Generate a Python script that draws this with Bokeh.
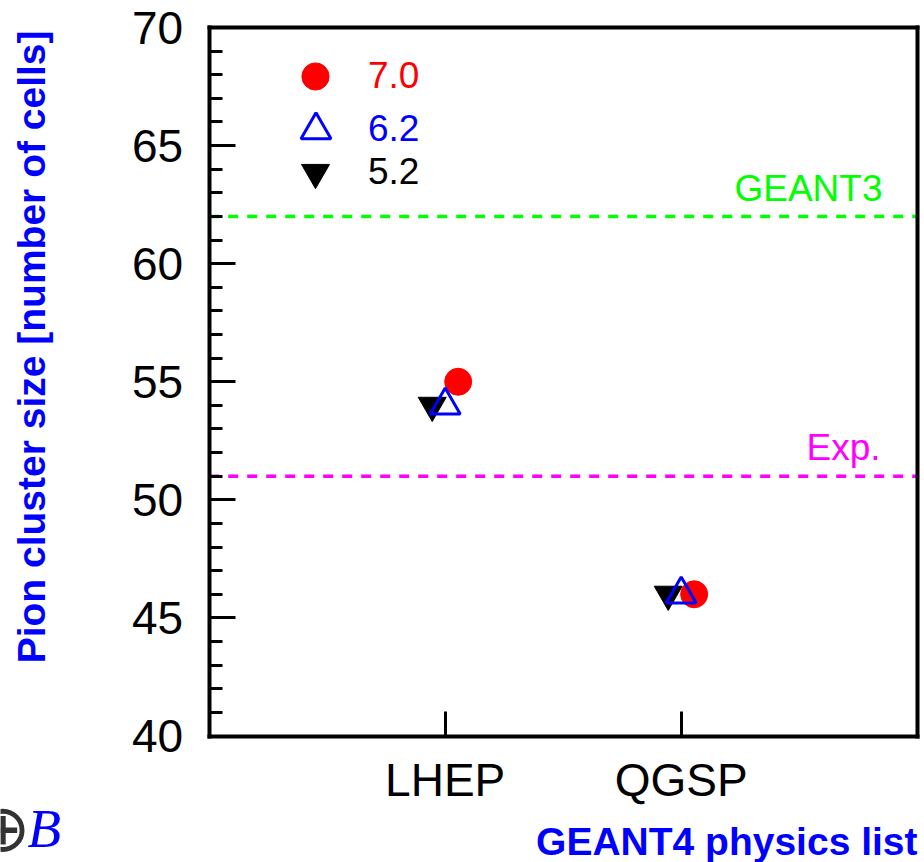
import math

from bokeh.plotting import figure
from bokeh.models import (ColumnDataSource, Range1d, SingleIntervalTicker, FixedTicker,
                          LinearAxis, Label, Legend, LegendItem)
from bokeh.transform import dodge
from bokeh.embed import file_html
from bokeh.resources import INLINE

# GEANT4 physics lists on the x axis
physics_lists = ["LHEP", "QGSP"]
# GEANT4 versions compared
versions = ["7.0", "6.2", "5.2"]
# mean pion cluster size [number of cells] per physics list, for each version
cluster_v70 = [55.0, 46.0]
cluster_v62 = [54.0, 46.0]
cluster_v52 = [54.0, 46.0]
# reference levels
geant3_level = 62.0
exp_level = 51.0

xpos = list(range(1, len(physics_lists) + 1))
source = ColumnDataSource(dict(x=xpos, v70=cluster_v70, v62=cluster_v62, v52=cluster_v52))

FONT = "Liberation Sans"
W, H = 924, 862

# the axes box sits inside a frame that covers the whole canvas, so that
# titles and notes outside the box are not clipped
box = dict(left=208.7, right=916.7, top=27.0, bottom=735.5)
x_lo, x_hi = 0, len(physics_lists) + 1
y_lo, y_hi = 40, 70
px_x = (box["right"] - box["left"]) / (x_hi - x_lo)
px_y = (box["bottom"] - box["top"]) / (y_hi - y_lo)
x_range = Range1d(x_lo - box["left"] / px_x, x_hi + (W - box["right"]) / px_x)
y_range = Range1d(y_lo - (H - box["bottom"]) / px_y, y_hi + box["top"] / px_y)

p = figure(width=W, height=H, x_range=x_range, y_range=y_range,
           output_backend="svg", toolbar_location=None, min_border=0)
p.xgrid.visible = False
p.ygrid.visible = False
p.background_fill_color = "white"
p.border_fill_color = "white"
p.outline_line_color = None

# y axis: ticks drawn inward, ROOT style
ya = p.yaxis[0]
ya.fixed_location = x_lo
ya.bounds = (y_lo, y_hi)
ya.ticker = SingleIntervalTicker(interval=5, num_minor_ticks=5)
ya.axis_line_width = 4
ya.axis_line_cap = "square"
ya.major_tick_in = 26
ya.major_tick_out = 0
ya.minor_tick_in = 13
ya.minor_tick_out = 0
ya.major_tick_line_width = 3
ya.minor_tick_line_width = 3
ya.major_label_standoff = 26
ya.major_label_text_font = FONT
ya.major_label_text_font_size = "46px"
ya.major_label_text_color = "black"

# x axis: one tick per physics list
xa = p.xaxis[0]
xa.fixed_location = y_lo
xa.bounds = (x_lo, x_hi)
xa.ticker = FixedTicker(ticks=xpos, minor_ticks=[])
xa.major_label_overrides = {x: name for x, name in zip(xpos, physics_lists)}
xa.axis_line_width = 4
xa.axis_line_cap = "square"
xa.major_tick_in = 25
xa.major_tick_out = 0
xa.minor_tick_in = 0
xa.minor_tick_out = 0
xa.major_tick_line_width = 3
xa.major_label_standoff = 18
xa.major_label_text_font = FONT
xa.major_label_text_font_size = "46px"
xa.major_label_text_color = "black"

# plain right and top edges closing the box
p.add_layout(LinearAxis(fixed_location=x_hi, bounds=(y_lo, y_hi), ticker=FixedTicker(ticks=[]),
                        axis_line_width=4, axis_line_cap="square",
                        major_tick_in=0, major_tick_out=0, minor_tick_in=0, minor_tick_out=0),
             "right")
p.add_layout(LinearAxis(fixed_location=y_hi, bounds=(x_lo, x_hi), ticker=FixedTicker(ticks=[]),
                        axis_line_width=4, axis_line_cap="square",
                        major_tick_in=0, major_tick_out=0, minor_tick_in=0, minor_tick_out=0),
             "above")

# reference lines across the box
p.segment(x0=x_lo, x1=x_hi, y0=geant3_level, y1=geant3_level,
          line_color="#00ff00", line_dash="10 9", line_width=3.5)
p.segment(x0=x_lo, x1=x_hi, y0=exp_level, y1=exp_level,
          line_color="#ff00ff", line_dash="10 9", line_width=3.5)
p.add_layout(Label(x=882, y=H - 188, x_units="screen", y_units="screen",
                   text="GEANT3", text_align="right", text_baseline="alphabetic",
                   text_color="#00ff00", text_font=FONT, text_font_size="37px"))
p.add_layout(Label(x=880, y=H - 447, x_units="screen", y_units="screen",
                   text="Exp.", text_align="right", text_baseline="alphabetic",
                   text_color="#ff00ff", text_font=FONT, text_font_size="37px"))

# markers for each version
r52 = p.scatter(x=dodge("x", -0.055), y="v52", source=source, marker="inverted_triangle",
                size=28, fill_color="black", line_color="black", line_width=1)
r70 = p.scatter(x=dodge("x", 0.055), y="v70", source=source, marker="circle",
                size=27, fill_color="red", line_color="red", line_width=1)
r62 = p.scatter(x="x", y="v62", source=source, marker="triangle",
                size=30, fill_color=None, line_color="blue", line_width=3)

# one legend entry per version, each in its own colour
legend_specs = [
    (versions[0], r70, "red", 68, (281, H - 110), 19),
    (versions[1], r62, "blue", 75, (278, H - 166.5), 15),
    (versions[2], r52, "black", 70, (280, H - 207), 18),
]
for text, rend, color, g, loc, standoff in legend_specs:
    leg = Legend(items=[LegendItem(label=text, renderers=[rend])], location=loc,
                 glyph_width=g, glyph_height=g, label_standoff=standoff,
                 label_text_color=color, label_text_font=FONT, label_text_font_size="37px",
                 padding=0, margin=0, spacing=0,
                 border_line_alpha=0, background_fill_alpha=0)
    p.add_layout(leg)

# axis titles
p.add_layout(Label(x=31, y=H - 30, x_units="screen", y_units="screen",
                   text="Pion cluster size [number of cells]", angle=math.pi / 2,
                   text_align="right", text_baseline="alphabetic",
                   text_color="blue", text_font=FONT, text_font_style="bold",
                   text_font_size="39px"))
p.add_layout(Label(x=917, y=H - 841, x_units="screen", y_units="screen",
                   text="GEANT4 physics list", text_align="right", text_baseline="alphabetic",
                   text_color="blue", text_font=FONT, text_font_style="bold",
                   text_font_size="39px"))

# leftover formula fragment in the lower-left corner
p.add_layout(Label(x=2.5, y=H - 828, x_units="screen", y_units="screen",
                   text="\u2295", text_align="center", text_baseline="middle",
                   text_color="#333333", text_font="DejaVu Sans", text_font_size="66px"))
p.add_layout(Label(x=27, y=H - 828, x_units="screen", y_units="screen",
                   text="B", text_align="left", text_baseline="alphabetic",
                   text_color="blue", text_font="Liberation Serif", text_font_style="italic",
                   text_font_size="55px"))

open("out.html", "w").write(file_html(p, INLINE))
